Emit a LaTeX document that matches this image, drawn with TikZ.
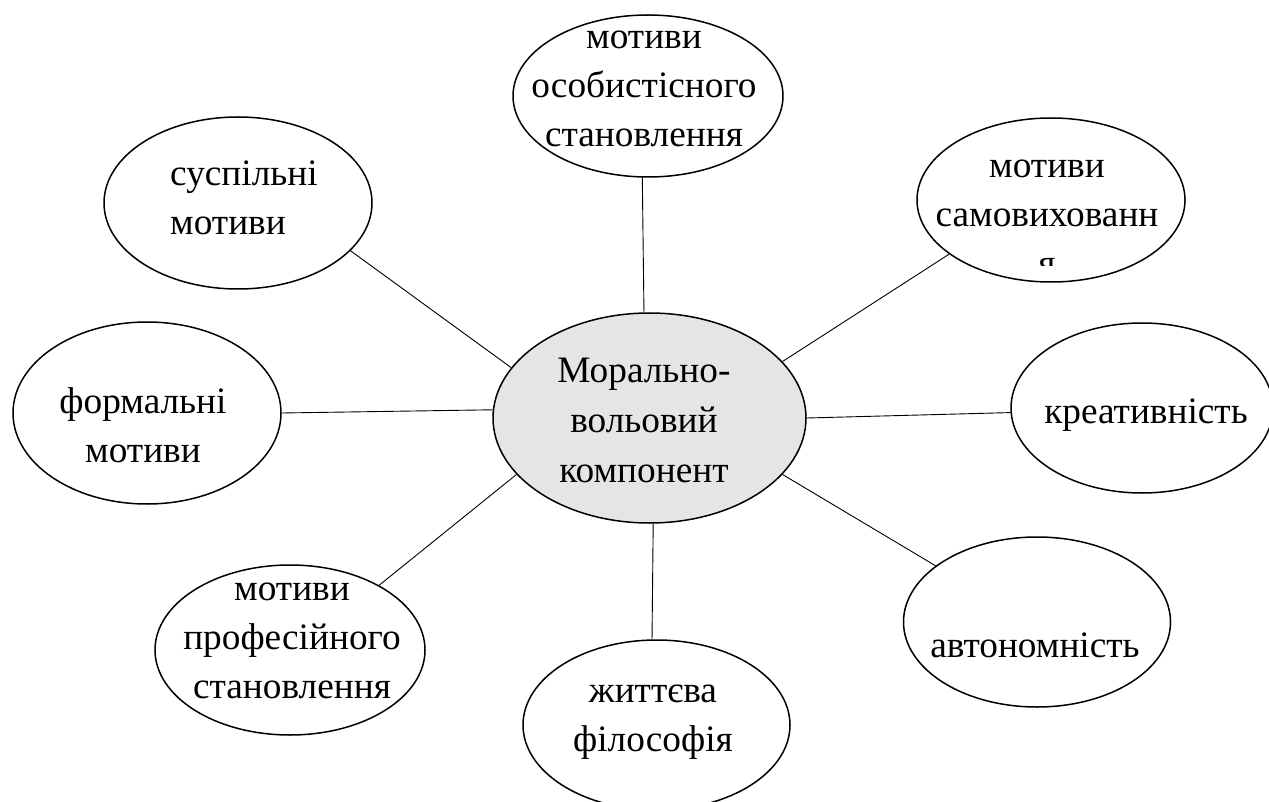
\documentclass[tikz,border=0pt]{standalone}
\usepackage{fontspec}
\setmainfont{Liberation Serif}
\usetikzlibrary{shapes.geometric}
\tikzset{
  bub/.style={ellipse, draw=black, line width=1.5pt, fill=white, inner sep=0pt},
  hub/.style={bub, fill=black!10},
  txt/.style={inner sep=0pt, align=center, font=\rmfamily\fontsize{37.3}{49}\selectfont},
  link/.style={draw=black, line width=0.9pt}
}
\begin{document}
\begin{tikzpicture}[x=1pt,y=1pt]
\useasboundingbox[fill=white] (0,0) rectangle (1269,-802);
% ellipses
\node[hub, minimum width=313, minimum height=210] (c) at (649.5,-418) {};
\node[bub, minimum width=270, minimum height=162] (t) at (648,-96) {};
\node[bub, minimum width=268, minimum height=172] (s) at (238,-203) {};
\node[bub, minimum width=268, minimum height=164] (m) at (1051,-200) {};
\node[bub, minimum width=262, minimum height=170] (k) at (1142,-408) {};
\node[bub, minimum width=268, minimum height=182] (f) at (147,-413) {};
\node[bub, minimum width=270, minimum height=170] (p) at (290,-650) {};
\node[bub, minimum width=267, minimum height=170] (j) at (656.5,-725) {};
\node[bub, minimum width=267, minimum height=170] (a) at (1037,-622) {};
% connectors
\draw[link] (c.93) -- (t.-94);
\draw[link] (c.160.6) -- (s.-23.6);
\draw[link] (c.23) -- (m.208);
\draw[link] (c.0) -- (k.182);
\draw[link] (c.177.8) -- (f.0);
\draw[link] (c.203.5) -- (p.36.7);
\draw[link] (c.-88.6) -- (j.93);
\draw[link] (c.-23.9) -- (a.151.7);
% texts
\node[txt, font=\rmfamily\fontsize{37.3}{50}\selectfont] (ct) at (644,-420) {Морально-\\вольовий\\компонент};
\node[txt] (tt) at (644,-89) {мотиви\\особистісного\\становлення};
\node[txt, align=left, anchor=west] (st) at (170,-198) {суспільні\\мотиви};
\begin{scope}
\clip (900,-100) rectangle (1200,-266);
\node[txt] (mt) at (1047,-218) {мотиви\\самовихованн\\я};
\end{scope}
\node[txt] (kt) at (1146,-415) {креативність};
\node[txt] (ft) at (143,-425) {формальні\\мотиви};
\node[txt] (pt) at (292,-641) {мотиви\\професійного\\становлення};
\node[txt] (jt) at (653,-722) {життєва\\філософія};
\node[txt] (at) at (1035,-645) {автономність};
\end{tikzpicture}
\end{document}
